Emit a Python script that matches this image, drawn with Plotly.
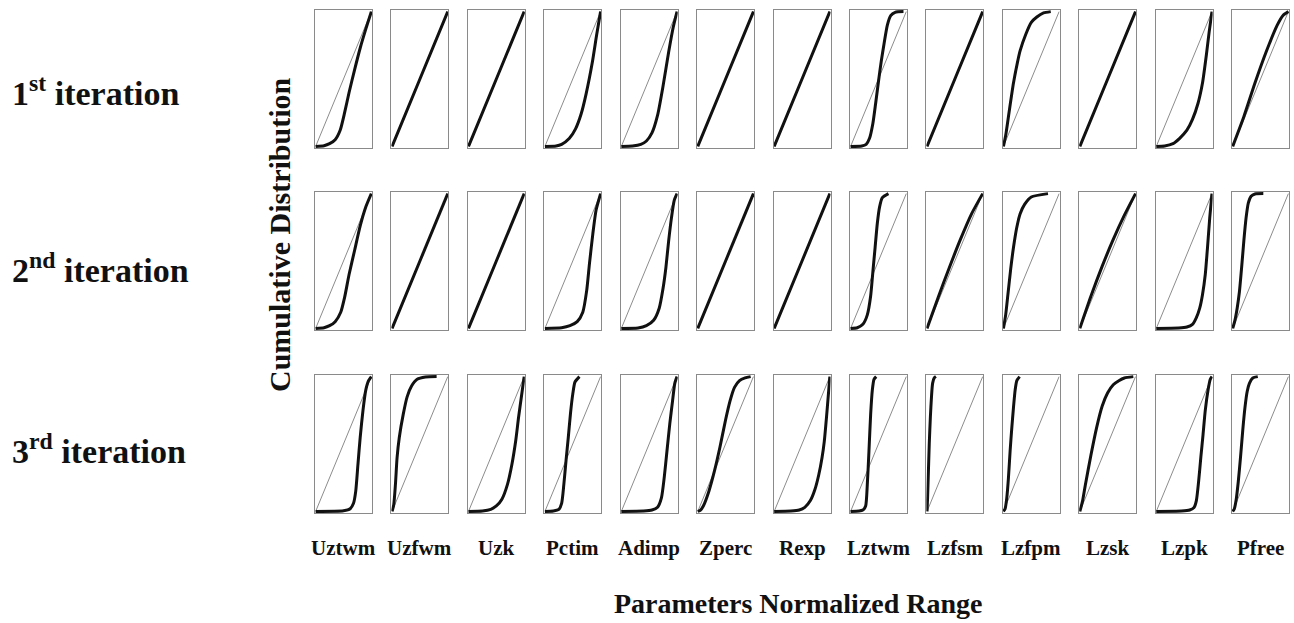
import plotly.graph_objects as go

# Parameter names (one column per parameter)
params = ["Uztwm", "Uzfwm", "Uzk", "Pctim", "Adimp", "Zperc", "Rexp",
          "Lztwm", "Lzfsm", "Lzfpm", "Lzsk", "Lzpk", "Pfree"]

# Row captions
iteration_labels = ["1<sup>st</sup> iteration", "2<sup>nd</sup> iteration", "3<sup>rd</sup> iteration"]

# Empirical cumulative distributions of each normalized parameter: (x, F(x)).
# Each curve stops at the largest sampled value.
cdf_iter1 = {
    "Uztwm": ([0, 0.15, 0.25, 0.35, 0.44, 0.52, 0.6, 0.7, 0.8, 0.9, 1],
              [0, 0.005, 0.02, 0.05, 0.12, 0.25, 0.4, 0.57, 0.73, 0.87, 1]),
    "Uzfwm": ([0, 0.5, 1], [0, 0.5, 1]),
    "Uzk":   ([0, 0.5, 1], [0, 0.5, 1]),
    "Pctim": ([0, 0.2, 0.3, 0.44, 0.55, 0.65, 0.74, 0.85, 0.93, 1],
              [0, 0.003, 0.015, 0.06, 0.13, 0.24, 0.39, 0.62, 0.83, 1]),
    "Adimp": ([0, 0.2, 0.35, 0.45, 0.55, 0.65, 0.75, 0.85, 0.93, 1],
              [0, 0.003, 0.015, 0.04, 0.1, 0.23, 0.45, 0.7, 0.88, 1]),
    "Zperc": ([0, 0.5, 1], [0, 0.5, 1]),
    "Rexp":  ([0, 0.5, 1], [0, 0.5, 1]),
    "Lztwm": ([0, 0.2, 0.28, 0.34, 0.4, 0.45, 0.5, 0.55, 0.6, 0.66, 0.72, 0.8, 0.95],
              [0, 0.003, 0.015, 0.06, 0.17, 0.32, 0.48, 0.63, 0.76, 0.9, 0.97, 0.995, 1]),
    "Lzfsm": ([0, 0.5, 1], [0, 0.5, 1]),
    "Lzfpm": ([0, 0.04, 0.1, 0.18, 0.25, 0.3, 0.4, 0.5, 0.6, 0.72, 0.85],
              [0, 0.08, 0.25, 0.47, 0.62, 0.71, 0.83, 0.92, 0.96, 0.99, 1]),
    "Lzsk":  ([0, 0.5, 1], [0, 0.5, 1]),
    "Lzpk":  ([0, 0.15, 0.3, 0.42, 0.55, 0.65, 0.75, 0.83, 0.9, 0.95, 1],
              [0, 0.003, 0.02, 0.06, 0.12, 0.2, 0.32, 0.47, 0.68, 0.85, 1]),
    "Pfree": ([0, 0.2, 0.4, 0.6, 0.8, 0.9, 1],
              [0, 0.22, 0.47, 0.7, 0.9, 0.97, 1]),
}

cdf_iter2 = {
    "Uztwm": ([0, 0.15, 0.25, 0.35, 0.45, 0.52, 0.6, 0.7, 0.8, 0.9, 1],
              [0, 0.005, 0.02, 0.05, 0.12, 0.23, 0.4, 0.58, 0.76, 0.9, 1]),
    "Uzfwm": ([0, 0.5, 1], [0, 0.5, 1]),
    "Uzk":   ([0, 0.5, 1], [0, 0.5, 1]),
    "Pctim": ([0, 0.3, 0.45, 0.58, 0.68, 0.75, 0.8, 0.86, 0.92, 1],
              [0, 0.005, 0.02, 0.05, 0.12, 0.28, 0.48, 0.7, 0.88, 1]),
    "Adimp": ([0, 0.3, 0.45, 0.58, 0.68, 0.75, 0.8, 0.85, 0.9, 0.95, 1],
              [0, 0.003, 0.02, 0.06, 0.15, 0.3, 0.45, 0.65, 0.82, 0.95, 1]),
    "Zperc": ([0, 0.5, 1], [0, 0.5, 1]),
    "Rexp":  ([0, 0.5, 1], [0, 0.5, 1]),
    "Lztwm": ([0, 0.12, 0.22, 0.3, 0.36, 0.4, 0.44, 0.48, 0.52, 0.57, 0.68],
              [0, 0.005, 0.03, 0.1, 0.24, 0.42, 0.6, 0.78, 0.9, 0.97, 1]),
    "Lzfsm": ([0, 0.2, 0.4, 0.6, 0.8, 1], [0, 0.23, 0.45, 0.66, 0.85, 1]),
    "Lzfpm": ([0, 0.04, 0.08, 0.13, 0.18, 0.24, 0.3, 0.38, 0.5, 0.8],
              [0, 0.1, 0.25, 0.44, 0.6, 0.75, 0.85, 0.92, 0.975, 1]),
    "Lzsk":  ([0, 0.2, 0.4, 0.6, 0.8, 1], [0, 0.24, 0.46, 0.66, 0.84, 1]),
    "Lzpk":  ([0, 0.4, 0.55, 0.65, 0.72, 0.78, 0.83, 0.88, 0.92, 0.96, 1],
              [0, 0.003, 0.01, 0.03, 0.08, 0.15, 0.25, 0.4, 0.6, 0.82, 1]),
    "Pfree": ([0, 0.04, 0.08, 0.12, 0.16, 0.2, 0.24, 0.28, 0.33, 0.4, 0.55],
              [0, 0.06, 0.15, 0.27, 0.45, 0.65, 0.82, 0.93, 0.98, 0.997, 1]),
}

cdf_iter3 = {
    "Uztwm": ([0, 0.5, 0.62, 0.68, 0.72, 0.76, 0.8, 0.85, 0.9, 0.95, 1],
              [0, 0.005, 0.02, 0.06, 0.15, 0.35, 0.55, 0.75, 0.9, 0.97, 1]),
    "Uzfwm": ([0, 0.03, 0.06, 0.09, 0.13, 0.2, 0.27, 0.35, 0.45, 0.6, 0.8],
              [0, 0.05, 0.2, 0.4, 0.55, 0.72, 0.85, 0.93, 0.98, 0.997, 1]),
    "Uzk":   ([0, 0.25, 0.4, 0.5, 0.6, 0.7, 0.78, 0.85, 0.9, 0.95, 1],
              [0, 0.003, 0.015, 0.04, 0.09, 0.2, 0.35, 0.53, 0.7, 0.85, 1]),
    "Pctim": ([0, 0.15, 0.25, 0.3, 0.34, 0.38, 0.42, 0.46, 0.5, 0.54, 0.62],
              [0, 0.003, 0.015, 0.06, 0.2, 0.38, 0.55, 0.73, 0.87, 0.96, 1]),
    "Adimp": ([0, 0.4, 0.55, 0.65, 0.72, 0.77, 0.82, 0.87, 0.92, 0.96, 1],
              [0, 0.003, 0.01, 0.03, 0.1, 0.25, 0.45, 0.65, 0.82, 0.95, 1]),
    "Zperc": ([0, 0.05, 0.1, 0.2, 0.3, 0.4, 0.5, 0.58, 0.66, 0.75, 0.85, 0.95],
              [0, 0.01, 0.04, 0.15, 0.3, 0.48, 0.68, 0.82, 0.92, 0.97, 0.99, 1]),
    "Rexp":  ([0, 0.3, 0.45, 0.55, 0.65, 0.73, 0.8, 0.86, 0.9, 0.94, 0.97, 1],
              [0, 0.003, 0.01, 0.03, 0.08, 0.16, 0.27, 0.4, 0.52, 0.7, 0.85, 1]),
    "Lztwm": ([0, 0.15, 0.22, 0.27, 0.3, 0.33, 0.36, 0.39, 0.42, 0.46],
              [0, 0.003, 0.01, 0.04, 0.2, 0.45, 0.72, 0.9, 0.98, 1]),
    "Lzfsm": ([0, 0.01, 0.025, 0.04, 0.06, 0.08, 0.1, 0.13, 0.16],
              [0, 0.1, 0.3, 0.5, 0.7, 0.85, 0.95, 0.99, 1]),
    "Lzfpm": ([0, 0.03, 0.06, 0.09, 0.12, 0.15, 0.18, 0.21, 0.24, 0.29],
              [0, 0.02, 0.1, 0.25, 0.45, 0.62, 0.77, 0.9, 0.97, 1]),
    "Lzsk":  ([0, 0.05, 0.1, 0.2, 0.3, 0.4, 0.5, 0.6, 0.7, 0.8, 0.96],
              [0, 0.08, 0.2, 0.42, 0.62, 0.78, 0.88, 0.94, 0.97, 0.99, 1]),
    "Lzpk":  ([0, 0.45, 0.6, 0.68, 0.72, 0.76, 0.8, 0.84, 0.88, 0.93, 0.97, 1],
              [0, 0.003, 0.01, 0.03, 0.08, 0.22, 0.4, 0.57, 0.75, 0.9, 0.98, 1]),
    "Pfree": ([0, 0.03, 0.06, 0.1, 0.14, 0.18, 0.22, 0.26, 0.3, 0.36, 0.45],
              [0, 0.02, 0.08, 0.22, 0.4, 0.6, 0.77, 0.89, 0.95, 0.99, 1]),
}

# Uniform prior reference line
uniform_x = [0, 1]
uniform_y = [0, 1]

rows = [cdf_iter1, cdf_iter2, cdf_iter3]

# ---- layout geometry (pixels) ----
W, H = 1294, 623
panel_left0 = 315
panel_pitch = 76.42
panel_w = 57
row_tops = [10, 192, 375]
panel_h = 138
row_label_y = [91, 268, 449]

FONT = "Liberation Serif"
BORDER = "#8a8a8a"
INK = "#111111"

fig = go.Figure()
layout = dict(
    width=W, height=H,
    margin=dict(l=0, r=0, t=0, b=0),
    paper_bgcolor="white", plot_bgcolor="white",
    showlegend=False,
)

k = 0
for r, cdfs in enumerate(rows):
    for c, name in enumerate(params):
        k += 1
        xa = "x" if k == 1 else f"x{k}"
        ya = "y" if k == 1 else f"y{k}"
        left = panel_left0 + c * panel_pitch
        top = row_tops[r]
        axis_common = dict(
            showgrid=False, zeroline=False, showticklabels=False, ticks="",
            showline=True, mirror=True, linecolor=BORDER, linewidth=1,
            range=[-0.012, 1.012], fixedrange=True,
        )
        layout["xaxis" if k == 1 else f"xaxis{k}"] = dict(
            axis_common, domain=[left / W, (left + panel_w) / W], anchor=ya)
        layout["yaxis" if k == 1 else f"yaxis{k}"] = dict(
            axis_common, domain=[1 - (top + panel_h) / H, 1 - top / H], anchor=xa)

        fig.add_trace(go.Scatter(
            x=uniform_x, y=uniform_y, xaxis=xa, yaxis=ya, mode="lines",
            line=dict(color="#8c8c8c", width=1), hoverinfo="skip"))
        xs, ys = cdfs[name]
        fig.add_trace(go.Scatter(
            x=xs, y=ys, xaxis=xa, yaxis=ya, mode="lines",
            line=dict(color=INK, width=3, shape="spline", smoothing=0.6),
            name=name))

annotations = []
# Row captions
for r, lab in enumerate(iteration_labels):
    annotations.append(dict(
        text=f"<b>{lab}</b>", x=10 / W, y=1 - row_label_y[r] / H,
        xref="paper", yref="paper", xanchor="left", yanchor="middle",
        showarrow=False, font=dict(family=FONT, size=34, color=INK)))

# Parameter names under each column
for c, name in enumerate(params):
    cx = panel_left0 + c * panel_pitch + panel_w / 2
    annotations.append(dict(
        text=f"<b>{name}</b>", x=cx / W, y=1 - 548 / H,
        xref="paper", yref="paper", xanchor="center", yanchor="middle",
        showarrow=False, font=dict(family=FONT, size=21, color=INK)))

# Axis titles
annotations.append(dict(
    text="<b>Cumulative Distribution</b>", x=280 / W, y=1 - 235 / H,
    xref="paper", yref="paper", xanchor="center", yanchor="middle",
    textangle=-90, showarrow=False,
    font=dict(family=FONT, size=30, color=INK)))
annotations.append(dict(
    text="<b>Parameters Normalized Range</b>", x=799 / W, y=1 - 603 / H,
    xref="paper", yref="paper", xanchor="center", yanchor="middle",
    showarrow=False, font=dict(family=FONT, size=28, color=INK)))

layout["annotations"] = annotations
fig.update_layout(**layout)
fig.write_html("out.html")
